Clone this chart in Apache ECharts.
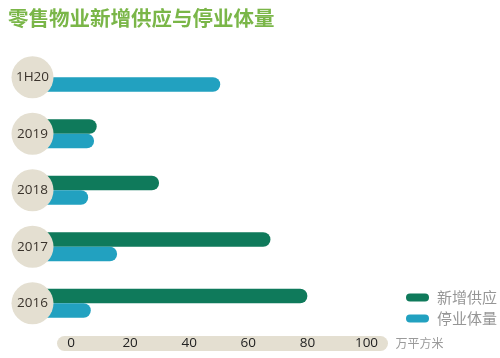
<!DOCTYPE html>
<html>
<head>
<meta charset="utf-8">
<script src="https://cdn.jsdelivr.net/npm/echarts@6/dist/echarts.min.js"></script>
<style>html,body{margin:0;padding:0;background:#fff;}#c{width:500px;height:358px;}</style>
</head>
<body>
<div id="c"></div>
<script>
var categories = ['1H20', '2019', '2018', '2017', '2016'];
var supplyValues = [null, 8.7, 29.8, 67.5, 80];
var closureValues = [50.5, 7.8, 5.8, 15.6, 6.7];
var seriesNames = ['新增供应', '停业体量'];
var xTicks = { min: 0, max: 100, interval: 20 };
var unitLabel = '万平方米';
var titleText = '零售物业新增供应与停业体量';

var GREEN = '#0f7a5b', BLUE = '#22a1c0', BEIGE = '#e4dfd1';
var BAR_H = 14.5;

function makeRender(offset) {
  return function (params, api) {
    var v = api.value(0);
    if (v == null || isNaN(v)) return null;
    var cat = api.value(1);
    var end = api.coord([v, cat]);
    var start = api.coord([0, cat]);
    var x0 = start[0] - 38;
    return {
      type: 'rect',
      shape: { x: x0, y: end[1] + offset - BAR_H / 2, width: end[0] - x0, height: BAR_H, r: BAR_H / 2 },
      style: api.style()
    };
  };
}

function toData(vals) {
  return vals.map(function (v, i) { return [v == null ? '-' : v, categories[i]]; });
}

var chart = echarts.init(document.getElementById('c'), null, { renderer: 'canvas' });
chart.setOption({
  animation: false,
  title: {
    text: titleText, left: 8, top: 8, padding: 0,
    textStyle: { color: '#7ab648', fontSize: 20.5, fontWeight: 'bold', fontFamily: 'Noto Sans CJK SC' }
  },
  legend: {
    orient: 'vertical', left: 401, top: 285, itemWidth: 23, itemHeight: 8, itemGap: 6,
    icon: 'path://M4,0L19,0A4,4,0,0,1,19,8L4,8A4,4,0,0,1,4,0Z',
    data: seriesNames,
    textStyle: { color: '#969696', fontSize: 15, fontFamily: 'Noto Sans CJK SC', padding: [0, 0, 0, 3] }
  },
  grid: [
    { left: 71, right: 133.5, top: 49, bottom: 26.5 },
    { left: 64.5, right: 119.5, top: 200, bottom: 15 }
  ],
  xAxis: [
    {
      gridIndex: 0, type: 'value', min: xTicks.min, max: xTicks.max, interval: xTicks.interval, z: 3,
      axisLine: { show: false }, axisTick: { show: false }, splitLine: { show: false },
      axisLabel: { margin: 5, fontSize: 13.5, color: '#222', fontFamily: 'Open Sans' }
    },
    {
      gridIndex: 1, type: 'value', min: 0, max: 1, z: 0,
      axisLine: { show: true, lineStyle: { color: BEIGE, width: 15, cap: 'round' } },
      axisTick: { show: false }, axisLabel: { show: false }, splitLine: { show: false },
      name: unitLabel, nameLocation: 'end', nameGap: 15,
      nameTextStyle: { color: '#9a9a9a', fontSize: 12, fontFamily: 'Noto Sans CJK SC' }
    }
  ],
  yAxis: [
    {
      gridIndex: 0, type: 'category', data: categories, inverse: true, z: 5,
      axisLine: { show: false }, axisTick: { show: false }, splitLine: { show: false },
      axisLabel: {
        align: 'center', margin: 38.5, width: 42, height: 42, lineHeight: 42,
        backgroundColor: BEIGE, borderRadius: 21,
        fontSize: 13.5, color: '#3a332c', fontFamily: 'Open Sans'
      }
    },
    { gridIndex: 1, type: 'value', show: false }
  ],
  series: [
    {
      name: seriesNames[0], type: 'custom', xAxisIndex: 0, yAxisIndex: 0, z: 2,
      encode: { x: 0, y: 1 }, itemStyle: { color: GREEN },
      renderItem: makeRender(-7.25), data: toData(supplyValues)
    },
    {
      name: seriesNames[1], type: 'custom', xAxisIndex: 0, yAxisIndex: 0, z: 2,
      encode: { x: 0, y: 1 }, itemStyle: { color: BLUE },
      renderItem: makeRender(7.25), data: toData(closureValues)
    }
  ]
});
</script>
</body>
</html>
